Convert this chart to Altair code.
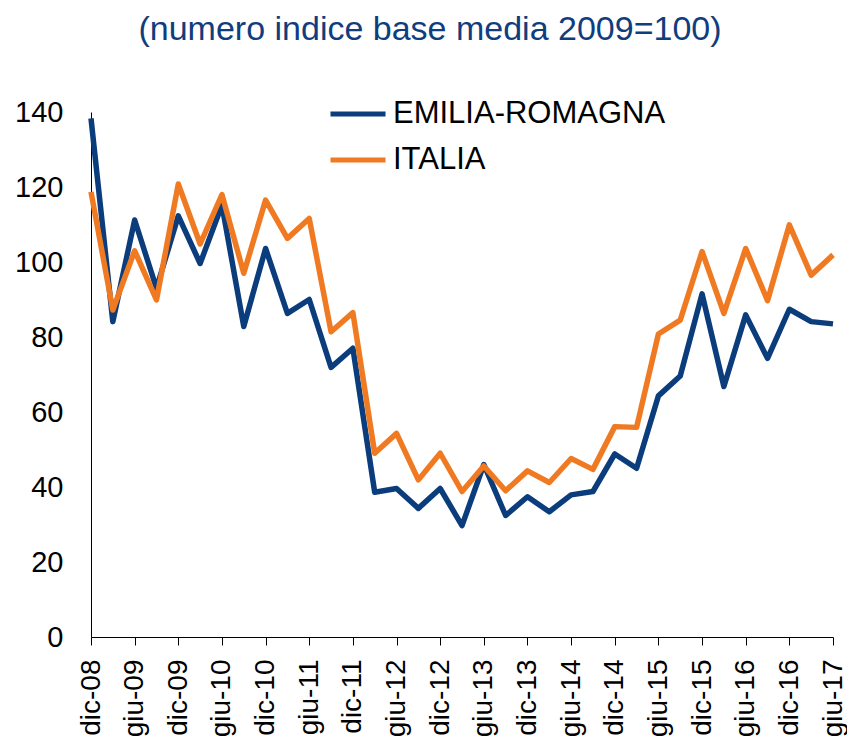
import altair as alt
import pandas as pd

quarters = [
    "dic-08", "mar-09", "giu-09", "set-09", "dic-09", "mar-10", "giu-10", "set-10",
    "dic-10", "mar-11", "giu-11", "set-11", "dic-11", "mar-12", "giu-12", "set-12",
    "dic-12", "mar-13", "giu-13", "set-13", "dic-13", "mar-14", "giu-14", "set-14",
    "dic-14", "mar-15", "giu-15", "set-15", "dic-15", "mar-16", "giu-16", "set-16",
    "dic-16", "mar-17", "giu-17",
]
tick_labels = [q for q in quarters if q.startswith("dic") or q.startswith("giu")]

emilia_romagna = [
    138.3, 84.1, 111.2, 93.0, 112.3, 99.6, 115.2, 82.8, 103.6, 86.3,
    90.0, 71.9, 77.0, 38.6, 39.6, 34.3, 39.6, 29.7, 46.0, 32.4,
    37.4, 33.4, 37.9, 38.8, 48.8, 45.0, 64.3, 69.6, 91.5, 66.8,
    85.9, 74.3, 87.4, 84.1, 83.5,
]
italia = [
    118.7, 87.2, 103.0, 89.9, 120.8, 104.8, 118.0, 97.0, 116.5, 106.3,
    111.6, 81.4, 86.5, 49.0, 54.3, 41.9, 49.0, 38.8, 45.6, 39.0,
    44.3, 41.2, 47.6, 44.7, 56.1, 55.9, 80.8, 84.5, 102.8, 86.3,
    103.6, 89.7, 109.9, 96.5, 101.9,
]
series_names = ["EMILIA-ROMAGNA", "ITALIA"]
series_colors = ["#0B3D7D", "#F07A22"]

rows = []
for name, vals in zip(series_names, [emilia_romagna, italia]):
    for i, (q, v) in enumerate(zip(quarters, vals)):
        rows.append({"periodo": q, "valore": v, "serie": name, "ord": series_names.index(name)})
df = pd.DataFrame(rows)

FONT = "Liberation Sans, Arial, sans-serif"

chart = (
    alt.Chart(df)
    .mark_line(strokeWidth=5.5, strokeJoin="round")
    .encode(
        x=alt.X(
            "periodo:N",
            sort=quarters,
            scale=alt.Scale(type="point", padding=0),
            axis=alt.Axis(
                title=None,
                values=tick_labels,
                labelAngle=-90,
                labelAlign="right",
                labelBaseline="middle",
                labelFontSize=28,
                labelFont=FONT,
                labelColor="black",
                labelPadding=14,
                tickSize=8,
                tickColor="black",
                domainColor="black",
                grid=False,
                labelOverlap=False,
            ),
        ),
        y=alt.Y(
            "valore:Q",
            scale=alt.Scale(domain=[0, 140], nice=False),
            axis=alt.Axis(
                title=None,
                values=[0, 20, 40, 60, 80, 100, 120, 140],
                labelFontSize=29,
                labelFont=FONT,
                labelColor="black",
                labelPadding=28,
                ticks=False,
                domainColor="black",
                grid=False,
            ),
        ),
        color=alt.Color(
            "serie:N",
            scale=alt.Scale(domain=series_names, range=series_colors),
            legend=alt.Legend(
                title=None,
                orient="none",
                legendX=237,
                legendY=-28,
                symbolType="stroke",
                symbolSize=3025,
                symbolStrokeWidth=5,
                labelFontSize=31,
                labelFont=FONT,
                labelColor="black",
                labelOffset=5,
                labelLimit=0,
                rowPadding=1,
                padding=0,
            ),
        ),
        order=alt.Order("ord:Q"),
    )
    .properties(
        width=742,
        height=525,
        padding={"left": 83, "top": 104, "right": 14, "bottom": 104},
        autosize=alt.AutoSizeParams(type="none"),
        title=alt.TitleParams(
            "(numero indice base media 2009=100)",
            fontSize=34,
            font=FONT,
            fontWeight="normal",
            color="#0F3D7E",
            anchor="middle",
            frame="group",
            dx=-32,
            offset=37,
        ),
    )
    .configure_view(stroke=None)
)

chart.save("out.html", embed_options={"renderer": "svg", "actions": False})
